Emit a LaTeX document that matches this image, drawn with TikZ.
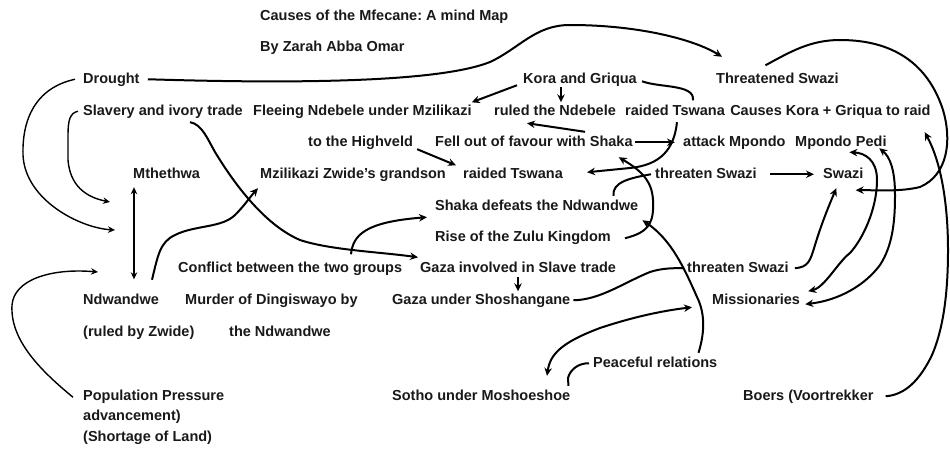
\documentclass[tikz,border=0pt]{standalone}
\usepackage{fontspec}
\setmainfont{Liberation Sans}
\usetikzlibrary{arrows.meta,positioning}
\frenchspacing

\begin{document}
\begin{tikzpicture}[x=1pt,y=-1pt,
  lbl/.style={anchor=base west, inner sep=0pt, text height=10.5pt, text depth=3pt, font=\bfseries\fontsize{14.5}{16}\selectfont, text=black!90},
  arr/.style={line width=2pt, -{Stealth[length=8pt,width=7.5pt]}},
  dbl/.style={line width=2pt, {Stealth[length=8pt,width=7.5pt]}-{Stealth[length=8pt,width=7.5pt]}},
  ln/.style={line width=2pt},
  tarr/.style={line width=1.4pt, -{Stealth[length=7pt,width=6.5pt]}},
  tdbl/.style={line width=1.3pt, {Stealth[length=7pt,width=6.5pt]}-{Stealth[length=7pt,width=6.5pt]}}]
\useasboundingbox (0,0) rectangle (950,455);
\node[lbl] (m1) at (260,20){Causes of the Mfecane: A mind Map};
\node[lbl] (m2) at (260,51){By Zarah Abba Omar};
\node[lbl] (m3) at (83,83){Drought};
\node[lbl] (m4) at (523,83){Kora and Griqua};
\node[lbl] (m5) at (716,83){Threatened Swazi};
\node[lbl] (m6) at (83,115){Slavery and ivory trade};
\node[lbl] (m7) at (253,115){Fleeing Ndebele under Mzilikazi};
\node[lbl] (m8) at (494,115){ruled the Ndebele};
\node[lbl] (m9) at (625,115){raided Tswana};
\node[lbl, right=5pt of m9] (m10){Causes Kora + Griqua to raid};
\node[lbl] (m11) at (308,146){to the Highveld};
\node[lbl] (m12) at (435,146){Fell out of favour with Shaka};
\node[lbl] (m13) at (683,146){attack Mpondo};
\node[lbl] (m14) at (795,146){Mpondo};
\node[lbl, right=4pt of m14] (m15){Pedi};
\node[lbl] (m16) at (133,178){Mthethwa};
\node[lbl] (m17) at (260,178){Mzilikazi Zwide’s grandson};
\node[lbl] (m18) at (463,178){raided Tswana};
\node[lbl] (m19) at (655,178){threaten Swazi};
\node[lbl] (m20) at (823,178){Swazi};
\node[lbl] (m21) at (435,210){Shaka defeats the Ndwandwe};
\node[lbl] (m22) at (435,241){Rise of the Zulu Kingdom};
\node[lbl] (m23) at (178,272){Conflict between the two groups};
\node[lbl] (m24) at (420,272){Gaza involved in Slave trade};
\node[lbl] (m25) at (687,272){threaten Swazi};
\node[lbl] (m26) at (83,304){Ndwandwe};
\node[lbl] (m27) at (185,304){Murder of Dingiswayo by};
\node[lbl] (m28) at (392,304){Gaza under Shoshangane};
\node[lbl] (m29) at (712,304){Missionaries};
\node[lbl] (m30) at (83,336){(ruled by Zwide)};
\node[lbl] (m31) at (229,336){the Ndwandwe};
\node[lbl] (m32) at (593,367){Peaceful relations};
\node[lbl] (m33) at (83,400){Population Pressure};
\node[lbl] (m34) at (392,400){Sotho under Moshoeshoe};
\node[lbl] (m35) at (743,400){Boers (Voortrekker};
\node[lbl] (m36) at (83,420){advancement)};
\node[lbl] (m37) at (83,441){(Shortage of Land)};
\coordinate (f1) at (115,230);
\coordinate (f2) at (110,202);
\coordinate (f3) at (98,272);
\draw[arr]([xshift=8pt]m3.east) .. controls (300,84) and (440,82) .. (490,62) .. controls (520,48) and (535,25) .. (570,25) .. controls (640,25) and (695,40) .. ([xshift=6pt,yshift=15.5pt]m5.north west);
\draw[tarr]([xshift=-8pt]m3.west) .. controls (35,88) and (22,120) .. (23,155) .. controls (25,200) and (80,228) .. (f1);
\draw[tarr]([xshift=-5pt]m6.west) .. controls (70,113) and (68,120) .. (68,135) -- (68,160) .. controls (70,185) and (85,197) .. (f2);
\draw[tdbl]([xshift=1pt,yshift=-6pt]m16.south west) -- ([xshift=51pt,yshift=14pt]m26.north west);
\draw[tarr]([xshift=-10pt,yshift=-1pt]m33.west) .. controls (40,370) and (10,340) .. (12,305) .. controls (14,280) and (50,268) .. (f3);
\draw[arr]([xshift=69pt,yshift=13.5pt]m26.north west) .. controls (158,255) and (160,242) .. (175,235) .. controls (195,225) and (222,228) .. (235,215) .. controls (245,205) and (250,197) .. ([xshift=-2pt,yshift=-7pt]m17.south west);
\draw[arr]([xshift=27pt,yshift=-4pt]m6.south) .. controls (202,124) and (208,140) .. (215,152) .. controls (235,185) and (265,225) .. (300,240) .. controls (330,250) and (380,252) .. ([xshift=-2pt,yshift=4pt]m24.north west);
\draw[arr]([xshift=173pt,yshift=7pt]m23.north west) .. controls (353,235) and (365,222) .. ([xshift=-8pt,yshift=-4pt]m21.south west);
\draw[arr]([xshift=4pt]m11.south east) -- ([xshift=-7pt,yshift=2pt]m18.north west);
\draw[arr]([xshift=-6pt,yshift=-6pt]m4.west) -- ([yshift=2pt]m7.north east);
\draw[arr]([xshift=38pt,yshift=-1pt]m4.south west) -- ([xshift=67pt,yshift=2pt]m8.north west);
\draw[ln]([xshift=5pt,yshift=-2pt]m4.east) .. controls (660,88) and (695,84) .. ([xshift=68pt,yshift=4pt]m9.north west);
\draw[arr]([xshift=150pt,yshift=3.5pt]m12.north west) -- ([xshift=33pt,yshift=-5pt]m8.south west);
\draw[arr]([xshift=2pt]m12.east) -- ([xshift=-8pt]m13.west);
\draw[arr]([xshift=52pt,yshift=-4pt]m9.south west) .. controls (674,150) and (660,165) .. (630,168) -- ([xshift=24pt,yshift=2pt]m18.east);
\draw[ln]([xshift=-4pt]m19.west) .. controls (630,178) and (612,182) .. ([xshift=-25pt,yshift=3.5pt]m21.north east);
\draw[arr]([xshift=14pt,yshift=-1pt]m22.east) .. controls (650,232) and (654,222) .. (653,200) .. controls (652,180) and (640,170) .. ([xshift=-14pt,yshift=-8pt]m12.south east);
\draw[arr]([xshift=-19pt,yshift=3.5pt]m32.north east) .. controls (704,335) and (706,315) .. (697,297) .. controls (685,270) and (672,240) .. ([xshift=4pt,yshift=-7pt]m21.south east);
\draw[ln]([xshift=3pt]m28.east) .. controls (600,300) and (625,282) .. (650,272) .. controls (662,268) and (675,268) .. ([xshift=-3pt]m25.west);
\draw[arr]([xshift=98pt,yshift=-2pt]m24.south west) -- ([xshift=126pt,yshift=2pt]m28.north west);
\draw[dbl]([xshift=155pt,yshift=13.5pt]m34.north west) .. controls (550,355) and (560,343) .. (600,328) .. controls (630,318) and (660,311) .. ([xshift=-20pt,yshift=-7pt]m29.west);
\draw[ln]([xshift=-2pt,yshift=3.5pt]m34.north east) -- (568,378) .. controls (570,370) and (578,363) .. ([xshift=-4pt]m32.west);
\draw[arr]([xshift=6pt]m25.east) .. controls (808,267) and (810,262) .. (815,245) .. controls (822,222) and (830,203) .. ([xshift=-7pt,yshift=-7pt]m20.south);
\draw[dbl]([xshift=8pt,yshift=9pt]m29.east) .. controls (825,287) and (838,262) .. (850,253) .. controls (862,240) and (877,210) .. (877,180) .. controls (877,160) and (865,153) .. ([xshift=26pt,yshift=-3pt]m14.south);
\draw[dbl]([xshift=5pt,yshift=-4pt]m29.east) .. controls (840,300) and (865,285) .. (880,265) .. controls (893,245) and (895,220) .. (895,195) .. controls (895,170) and (890,157) .. ([xshift=8pt,yshift=1pt]m15.south);
\draw[arr]([xshift=-12pt,yshift=7pt]m5.north) .. controls (790,52) and (810,40) .. (840,40) .. controls (900,40) and (930,70) .. (943,110) .. controls (952,140) and (948,175) .. (920,187) .. controls (900,192) and (875,190) .. ([xshift=-8pt,yshift=-9pt]m20.south east);
\draw[arr]([xshift=12pt]m35.east) .. controls (905,395) and (920,380) .. (932,355) .. controls (945,325) and (948,285) .. (948,250) .. controls (948,200) and (940,160) .. ([xshift=-6pt,yshift=-14pt]m10.south east);
\draw[arr]([xshift=13pt]m19.east) -- ([xshift=-9pt]m20.west);
\end{tikzpicture}
\end{document}
